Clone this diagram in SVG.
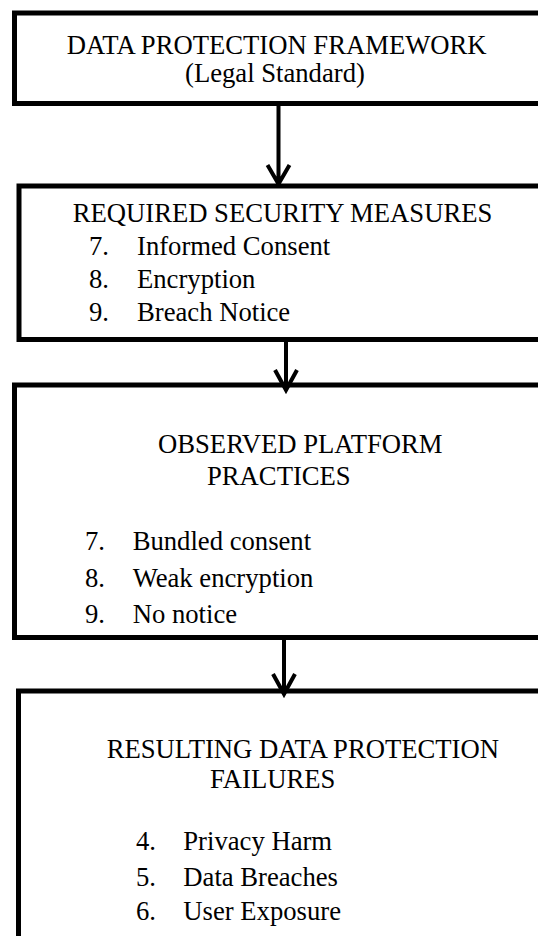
<svg xmlns="http://www.w3.org/2000/svg" width="538" height="936" viewBox="0 0 538 936">
<style>
.box{fill:#fff;stroke:#000;stroke-width:5}
.t{font-family:"Liberation Serif","Times New Roman",serif;font-size:26.67px;fill:#000}
.conn{fill:none;stroke:#000;stroke-width:4}
</style>
<rect width="538" height="936" fill="#fff"/>
<g id="node-framework">
<rect class="box" x="14.5" y="13" width="560" height="90.5"/>
<text class="t" x="66.7" y="54">DATA PROTECTION FRAMEWORK</text>
<text class="t" x="185" y="82">(Legal Standard)</text>
</g>
<g id="node-required">
<rect class="box" x="19" y="186" width="560" height="153.5"/>
<text class="t" x="72.7" y="222">REQUIRED SECURITY MEASURES</text>
<text class="t" x="89" y="255">7.</text><text class="t" x="137" y="255">Informed Consent</text>
<text class="t" x="89" y="288">8.</text><text class="t" x="137" y="288">Encryption</text>
<text class="t" x="89" y="321">9.</text><text class="t" x="137" y="321">Breach Notice</text>
</g>
<g id="node-observed">
<rect class="box" x="14.5" y="385" width="560" height="252.5"/>
<text class="t" x="158" y="453">OBSERVED PLATFORM</text>
<text class="t" x="207" y="485">PRACTICES</text>
<text class="t" x="85" y="550">7.</text><text class="t" x="132.7" y="550">Bundled consent</text>
<text class="t" x="85" y="587">8.</text><text class="t" x="132.7" y="587">Weak encryption</text>
<text class="t" x="85" y="623">9.</text><text class="t" x="132.7" y="623">No notice</text>
</g>
<g id="node-failures">
<rect class="box" x="18.5" y="691" width="560" height="300"/>
<text class="t" x="106.7" y="758">RESULTING DATA PROTECTION</text>
<text class="t" x="210" y="788">FAILURES</text>
<text class="t" x="136" y="850">4.</text><text class="t" x="183.3" y="850">Privacy Harm</text>
<text class="t" x="136" y="886">5.</text><text class="t" x="183.3" y="886">Data Breaches</text>
<text class="t" x="136" y="920">6.</text><text class="t" x="183.3" y="920">User Exposure</text>
</g>
<g id="connectors">
<path class="conn" d="M278.5 106 V184 M267.5 165 L278.5 184 L289.5 165"/>
<path class="conn" d="M286 342 V390 M275 370 L286 390 L297 370"/>
<path class="conn" d="M284 640 V694 M273 674 L284 694 L295 674"/>
</g>
</svg>
